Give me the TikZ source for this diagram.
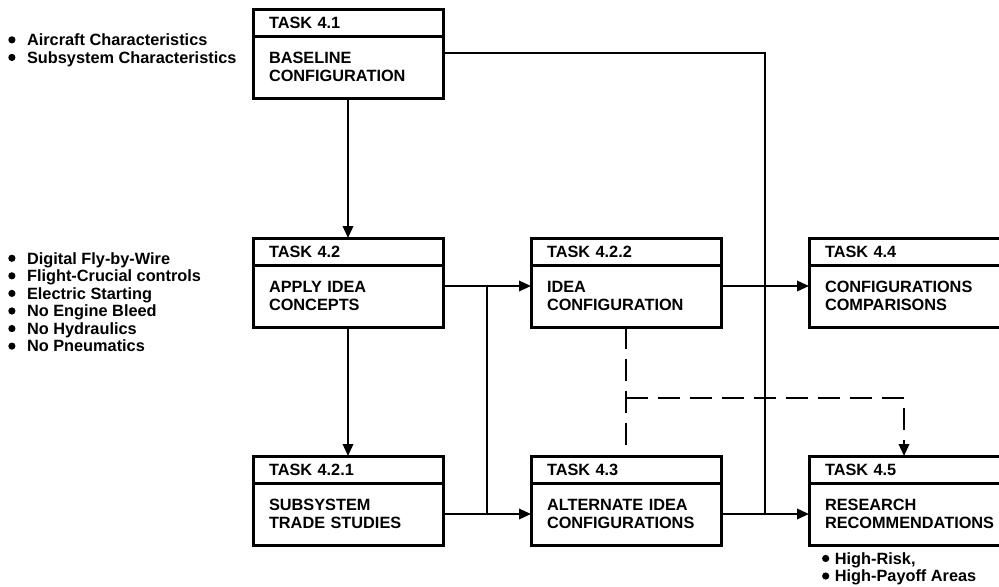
\documentclass[tikz,border=0pt]{standalone}
\usepackage{fontspec}
\setmainfont{Liberation Sans}
\usetikzlibrary{arrows.meta,positioning,calc}
\newcommand{\featdot}{\tikz[baseline=-0.68ex]\fill (0,0) circle (0.9mm);}

\begin{document}
\begin{tikzpicture}[
  font=\bfseries\fontsize{11.6}{12.6}\selectfont,
  taskhead/.style={draw, line width=0.75mm, outer sep=0pt, inner xsep=4mm,
    inner ysep=0pt, text width=39.5mm, minimum height=6.75mm, align=left},
  taskbody/.style={draw, line width=0.75mm, outer sep=0pt, inner xsep=4mm,
    inner ysep=0pt, text width=39.5mm, minimum height=15.5mm, align=left},
  wide/.style={text width=52mm},
  featlist/.style={inner sep=0pt, align=left,
    font=\bfseries\fontsize{11.6}{12.5}\selectfont},
  arrow/.style={-{Triangle[length=3mm,width=2.6mm]}, line width=0.55mm},
  link/.style={line width=0.55mm},
  dashline/.style={line width=0.55mm, dash pattern=on 5.5mm off 2.5mm}
]
\useasboundingbox (0,0) rectangle (249.75mm,-146.5mm);
\clip (0,0) rectangle (249.75mm,-146.5mm);

% task boxes
\node[taskhead, anchor=north west] (t41h) at (63.25mm,-2.25mm) {TASK 4.1};
\node[taskbody, below=0pt of t41h] (t41) {BASELINE\\CONFIGURATION};

\node[taskhead, below=35mm of t41] (t42h) {TASK 4.2};
\node[taskbody, below=0pt of t42h] (t42) {APPLY IDEA\\CONCEPTS};

\node[taskhead, below=32.25mm of t42] (t421h) {TASK 4.2.1};
\node[taskbody, below=0pt of t421h] (t421) {SUBSYSTEM\\TRADE STUDIES};

\node[taskhead, right=22mm of t42h] (t422h) {TASK 4.2.2};
\node[taskbody, below=0pt of t422h] (t422) {IDEA\\CONFIGURATION};

\node[taskhead, right=22mm of t421h] (t43h) {TASK 4.3};
\node[taskbody, below=0pt of t43h] (t43) {ALTERNATE IDEA\\CONFIGURATIONS};

\node[taskhead, wide, right=22mm of t422h] (t44h) {TASK 4.4};
\node[taskbody, wide, below=0pt of t44h] (t44) {CONFIGURATIONS\\COMPARISONS};

\node[taskhead, wide, right=22mm of t43h] (t45h) {TASK 4.5};
\node[taskbody, wide, below=0pt of t45h] (t45) {RESEARCH\\RECOMMENDATIONS};

% inputs and outputs
\node[featlist, anchor=north west] (feat41) at (2mm,-8.4mm)
  {\featdot\hspace{2.9mm}Aircraft Characteristics\\
   \featdot\hspace{2.9mm}Subsystem Characteristics};
\node[featlist, anchor=north west] (feat42) at (2mm,-63mm)
  {\featdot\hspace{2.9mm}Digital Fly-by-Wire\\
   \featdot\hspace{2.9mm}Flight-Crucial controls\\
   \featdot\hspace{2.9mm}Electric Starting\\
   \featdot\hspace{2.9mm}No Engine Bleed\\
   \featdot\hspace{2.9mm}No Hydraulics\\
   \featdot\hspace{2.9mm}No Pneumatics};
\node[featlist, below=1.8mm of t45.south west, anchor=north west, xshift=3.2mm] (feat45)
  {\featdot\hspace{1.4mm}High-Risk,\\
   \featdot\hspace{1.4mm}High-Payoff Areas};

% connectors
\coordinate (out41) at ([yshift=3.5mm]t41.east);
\coordinate (out42) at ([yshift=2.5mm]t42.east);
\coordinate (out422) at ([yshift=2.5mm]t422.east);
\coordinate (join43) at ($(t421.east)!0.5!(t43.west)$);
\coordinate (join45) at ($(t43.east)!0.5!(t45.west)$);
\coordinate (dashjoin) at ($(t422.south)!0.55!(t43h.north)$);
\coordinate (in45) at ([xshift=23.75mm]t45h.north west);

\draw[arrow] (t41) -- (t42h);
\draw[arrow] (t42) -- (t421h);
\draw[arrow] (out42) -- (out42 -| t422.west);
\draw[link] (out42 -| join43) -- (join43);
\draw[arrow] (t421) -- (t43);
\draw[arrow] (out422) -- (out422 -| t44.west);
\draw[link] (out41) -| (join45);
\draw[arrow] (t43) -- (t45);
\draw[dashline] (t422) -- (t43h);
\draw[dashline, arrow] (dashjoin) -| (in45);
\end{tikzpicture}
\end{document}
